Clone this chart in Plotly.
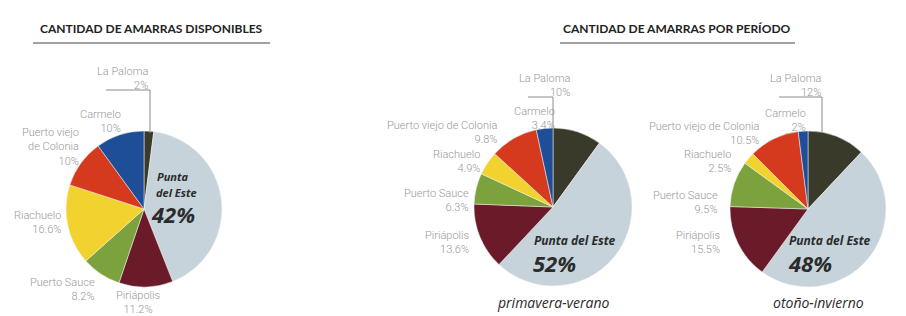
import plotly.graph_objects as go

# Page is 906x316; the browser body has an 8px margin, so the figure is
# sized to fill the rest and page-pixel positions are mapped into it.
PAGE_W, PAGE_H, OFF = 906, 316, 8
W, H = PAGE_W - OFF, PAGE_H - OFF

# ---- data ----
ports = ["La Paloma", "Punta del Este", "Piriápolis", "Puerto Sauce",
         "Riachuelo", "Puerto viejo de Colonia", "Carmelo"]
disponibles = [2, 42, 11.2, 8.2, 16.6, 10, 10]
primavera_verano = [10, 52, 13.6, 6.3, 4.9, 9.8, 3.4]
otono_invierno = [12, 48, 15.5, 9.5, 2.5, 10.5, 2]
title_left = "CANTIDAD DE AMARRAS DISPONIBLES"
title_right = "CANTIDAD DE AMARRAS POR PERÍODO"
period_names = ["primavera-verano", "otoño-invierno"]

# ---- styles ----
colors = ["#3a3a2b", "#c6d3da", "#6a1a28", "#7ca23e", "#f1d22e", "#d63a1e", "#1f4e98"]
label_color = "#989898"
dark = "#2b2b2b"
label_font = dict(family="Roboto, Lato, sans-serif", size=11, color=label_color, weight=300)


def px(x):
    return (x - OFF) / W


def py(y):
    return 1 - (y - OFF) / H


def domain(cx, cy, r):
    return dict(x=[px(cx - r), px(cx + r)], y=[py(cy + r), py(cy - r)])


def fmt(v):
    return f"{v:g}%"


fig = go.Figure()
pies = [(disponibles, (144, 209, 78)),
        (primavera_verano, (553, 207, 79)),
        (otono_invierno, (808, 209, 78))]
for vals, (cx, cy, r) in pies:
    fig.add_trace(go.Pie(
        labels=ports, values=vals, sort=False, direction="clockwise", rotation=0,
        marker=dict(colors=colors, line=dict(width=0.5, color="#f4f4f4")),
        textinfo="none", hoverinfo="label+percent", showlegend=False,
        domain=domain(cx, cy, r)))

ann = []
shapes = []


def label(text, x, y, anchor="right", align="right"):
    ann.append(dict(text=text, x=px(x), y=py(y), xref="paper", yref="paper",
                    xanchor=anchor, yanchor="middle", align=align,
                    showarrow=False, font=label_font))


# left pie labels (index order of ports)
left_pos = {0: (150, 78), 6: (123, 122), 5: (81, 147), 4: (63, 222), 3: (97, 289)}
for i, (x, y) in left_pos.items():
    name = "Puerto viejo<br>de Colonia" if i == 5 else ports[i]
    label(f"{name}<br>{fmt(disponibles[i])}", x, y)
label(f"{ports[2]}<br>{fmt(disponibles[2])}", 138, 302, anchor="center", align="center")

mid_pos = {0: (572, 85), 6: (557, 118), 5: (500, 132), 4: (482, 161), 3: (471, 200), 2: (471, 242)}
for i, (x, y) in mid_pos.items():
    label(f"{ports[i]}<br>{fmt(primavera_verano[i])}", x, y)

right_pos = {0: (823, 85), 6: (808, 120), 5: (762, 133), 4: (733, 161), 3: (720, 202), 2: (722, 242)}
for i, (x, y) in right_pos.items():
    label(f"{ports[i]}<br>{fmt(otono_invierno[i])}", x, y)

# leader lines for La Paloma
for pts in [[(106, 90), (150, 90), (150, 133)],
            [(528, 97), (553, 97), (553, 129)],
            [(779, 97), (822, 97), (822, 133)]]:
    path = "M " + " L ".join(f"{px(a)} {py(b)}" for a, b in pts)
    shapes.append(dict(type="path", path=path, xref="paper", yref="paper",
                       line=dict(color="#8a8a8a", width=1)))

# Punta del Este inner labels
ifam = "Open Sans, sans-serif"
big = dict(family=ifam, size=22, color=dark, weight="bold", style="italic")
small_l = dict(family=ifam, size=11, color=dark, weight="bold", style="italic")
small = dict(family=ifam, size=12, color=dark, weight="bold", style="italic")


def inner(text, x, y, font):
    ann.append(dict(text=text, x=px(x), y=py(y), xref="paper", yref="paper",
                    xanchor="left", yanchor="middle", showarrow=False, font=font))


inner("Punta", 155, 176, small_l)
inner("del Este", 154, 192, small_l)
inner(fmt(disponibles[1]), 149, 214, big)
for vals, x in [(primavera_verano, 532), (otono_invierno, 787)]:
    inner(ports[1], x, 241, small)
    inner(fmt(vals[1]), x - 1, 263, big)

# period subtitles
for name, x in zip(period_names, [553, 818]):
    ann.append(dict(text=name, x=px(x), y=py(302), xref="paper", yref="paper",
                    xanchor="center", yanchor="middle", showarrow=False,
                    font=dict(family=ifam, size=14, color=dark, style="italic")))

# titles with underline
tfont = dict(family="Lato, sans-serif", size=12, color="#222222", weight="bold")
for t, cx, x0, x1 in [(title_left, 151, 33, 270), (title_right, 677, 560, 795)]:
    ann.append(dict(text=t, x=px(cx), y=py(28), xref="paper", yref="paper",
                    xanchor="center", yanchor="middle", showarrow=False, font=tfont))
    shapes.append(dict(type="line", x0=px(x0), x1=px(x1), y0=py(43), y1=py(43),
                       xref="paper", yref="paper", line=dict(color="#444444", width=1)))

fig.update_layout(width=W, height=H, margin=dict(l=0, r=0, t=0, b=0),
                  paper_bgcolor="white", plot_bgcolor="white",
                  annotations=ann, shapes=shapes)
fig.write_html("out.html")
